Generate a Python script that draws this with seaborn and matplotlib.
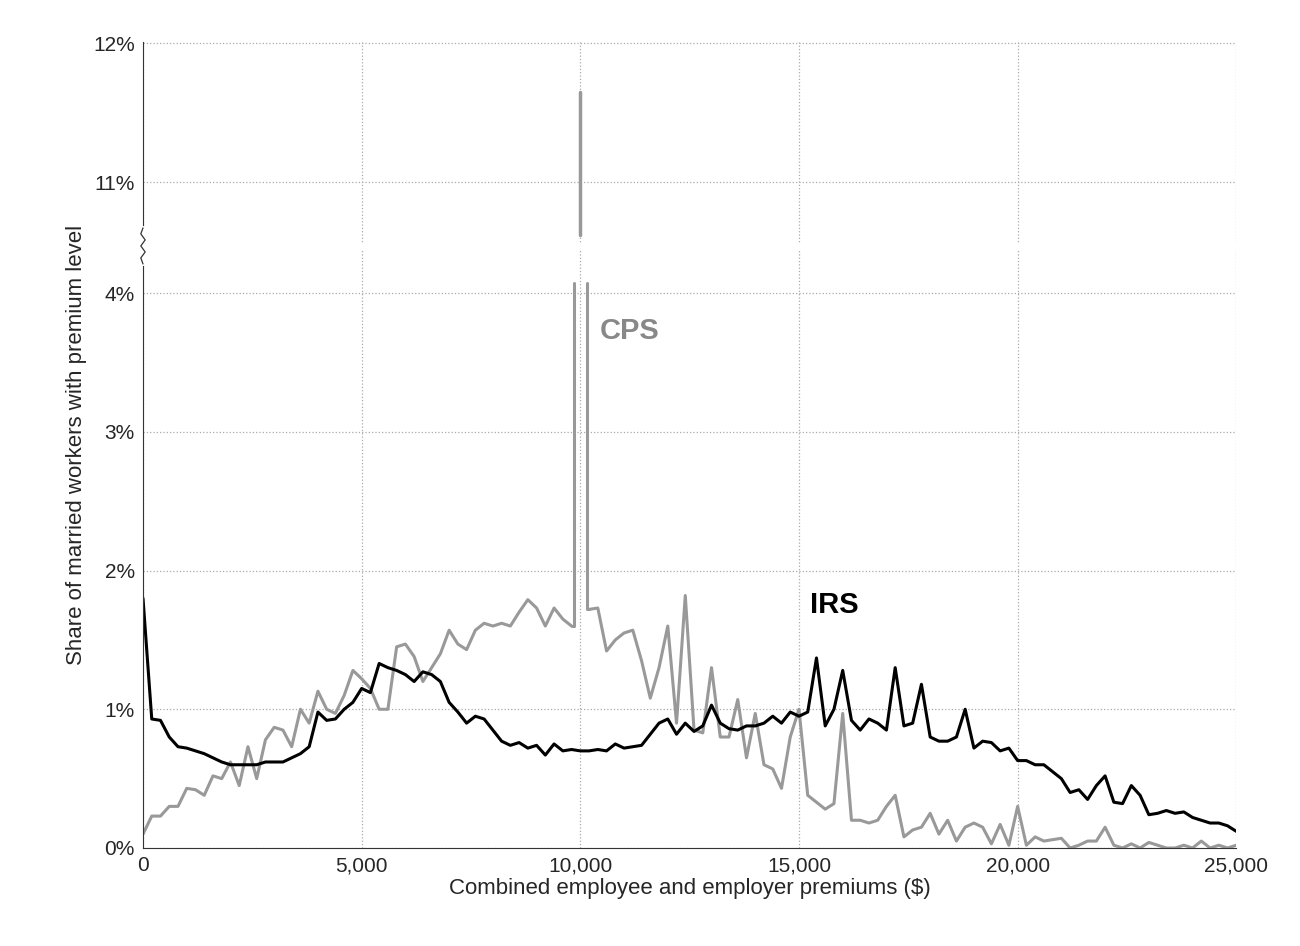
import matplotlib.pyplot as plt
import seaborn as sns
import pandas as pd
import numpy as np

# values in percent, one point every $200 from 0 to 25,000
irs_values = [
    1.8, 0.93, 0.92, 0.8, 0.73, 0.72, 0.7, 0.68, 0.65, 0.62,
    0.6, 0.6, 0.6, 0.6, 0.62, 0.62, 0.62, 0.65, 0.68, 0.73,
    0.98, 0.92, 0.93, 1.0, 1.05, 1.15, 1.12, 1.33, 1.3, 1.28,
    1.25, 1.2, 1.27, 1.25, 1.2, 1.05, 0.98, 0.9, 0.95, 0.93,
    0.85, 0.77, 0.74, 0.76, 0.72, 0.74, 0.67, 0.75, 0.7, 0.71,
    0.7, 0.7, 0.71, 0.7, 0.75, 0.72, 0.73, 0.74, 0.82, 0.9,
    0.93, 0.82, 0.9, 0.84, 0.88, 1.03, 0.9, 0.86, 0.85, 0.88,
    0.88, 0.9, 0.95, 0.9, 0.98, 0.95, 0.98, 1.37, 0.88, 1.0,
    1.28, 0.92, 0.85, 0.93, 0.9, 0.85, 1.3, 0.88, 0.9, 1.18,
    0.8, 0.77, 0.77, 0.8, 1.0, 0.72, 0.77, 0.76, 0.7, 0.72,
    0.63, 0.63, 0.6, 0.6, 0.55, 0.5, 0.4, 0.42, 0.35, 0.45,
    0.52, 0.33, 0.32, 0.45, 0.38, 0.24, 0.25, 0.27, 0.25, 0.26,
    0.22, 0.2, 0.18, 0.18, 0.16, 0.12,
]
cps_values = [
    0.1, 0.23, 0.23, 0.3, 0.3, 0.43, 0.42, 0.38, 0.52, 0.5,
    0.62, 0.45, 0.73, 0.5, 0.78, 0.87, 0.85, 0.73, 1.0, 0.9,
    1.13, 1.0, 0.97, 1.1, 1.28, 1.22, 1.15, 1.0, 1.0, 1.45,
    1.47, 1.38, 1.2, 1.3, 1.4, 1.57, 1.47, 1.43, 1.57, 1.62,
    1.6, 1.62, 1.6, 1.7, 1.79, 1.73, 1.6, 1.73, 1.65, 1.6,
    np.nan, 1.72, 1.73, 1.42, 1.5, 1.55, 1.57, 1.35, 1.08, 1.3,
    1.6, 0.9, 1.82, 0.85, 0.83, 1.3, 0.8, 0.8, 1.07, 0.65,
    0.97, 0.6, 0.57, 0.43, 0.8, 1.0, 0.38, 0.33, 0.28, 0.32,
    0.97, 0.2, 0.2, 0.18, 0.2, 0.3, 0.38, 0.08, 0.13, 0.15,
    0.25, 0.1, 0.2, 0.05, 0.15, 0.18, 0.15, 0.03, 0.17, 0.02,
    0.3, 0.02, 0.08, 0.05, 0.06, 0.07, 0.0, 0.02, 0.05, 0.05,
    0.15, 0.02, 0.0, 0.03, 0.0, 0.04, 0.02, 0.0, 0.0, 0.02,
    0.0, 0.05, 0.0, 0.02, 0.0, 0.02,
]
# CPS heaping spikes around $10,000
spike_x = [9850, 10000, 10150]
spike_values = [4.07, 11.65, 4.07]

y_ticks = [0, 1, 2, 3, 4, 11, 12]
y_tick_labels = ['0%', '1%', '2%', '3%', '4%', '11%', '12%']
x_ticks = [0, 5000, 10000, 15000, 20000, 25000]

# broken axis: values above the break are shifted down
BREAK_LO, SHIFT = 4.34, 6.2


def brk(v):
    v = np.asarray(v, dtype=float)
    return np.where(v > 10.5, v - SHIFT, v)


step = 200
irs = pd.DataFrame({'x': np.arange(len(irs_values)) * step, 'y': irs_values})
cps = pd.DataFrame({'x': np.arange(len(cps_values)) * step, 'y': cps_values})

sns.set_style('white')
plt.rcParams['font.family'] = ['Liberation Sans', 'DejaVu Sans']

fig = plt.figure(figsize=(13, 9.46), dpi=100)
ax = fig.add_axes([0.11, 0.1036, 0.841, 0.852])

gray = '#999999'
cps_a = cps[cps['x'] < 10000]
cps_b = cps[cps['x'] > 10000]
sns.lineplot(data=cps_a, x='x', y='y', color=gray, lw=2.2, ax=ax)
sns.lineplot(data=cps_b, x='x', y='y', color=gray, lw=2.2, ax=ax)
# spikes
ax.plot([cps_a['x'].iloc[-1], spike_x[0], spike_x[0]],
        [cps_a['y'].iloc[-1], cps_a['y'].iloc[-1], spike_values[0]], color=gray, lw=2.2)
ax.plot([spike_x[2], spike_x[2], cps_b['x'].iloc[0]],
        [spike_values[2], cps_b['y'].iloc[0], cps_b['y'].iloc[0]], color=gray, lw=2.2)
ax.plot([spike_x[1], spike_x[1]], [BREAK_LO + 0.08, brk(spike_values[1])], color=gray, lw=2.5)

sns.lineplot(data=irs, x='x', y='y', color='black', lw=2.2, ax=ax)

ax.set_xlim(0, 25000)
ax.set_ylim(0, 12 - SHIFT + 0.01)
ax.set_xticks(x_ticks)
ax.set_xticklabels([f'{t:,}' for t in x_ticks], fontsize=15)
ax.set_yticks(brk(y_ticks))
ax.set_yticklabels(y_tick_labels, fontsize=15)
ax.grid(True, color='#aaaaaa', linestyle=':', linewidth=0.9)
ax.tick_params(axis='both', length=0, pad=6)
for s in ['top', 'right']:
    ax.spines[s].set_visible(False)
ax.spines['left'].set_color('#333333')
ax.spines['bottom'].set_color('#333333')

# break gap and zigzag on y axis
ax.axhspan(BREAK_LO - 0.02, BREAK_LO + 0.02, color='white', zorder=1.5)
zx = np.array([0, -50, 50, -50, 50, -50, 0])
zy = np.linspace(BREAK_LO - 0.13, BREAK_LO + 0.13, len(zx))
ax.plot([0, 0], [BREAK_LO - 0.13, BREAK_LO + 0.13], color='white', lw=3, clip_on=False, zorder=4)
ax.plot(zx, zy, color='#333333', lw=0.9, clip_on=False, zorder=5)

ax.text(10450, 3.73, 'CPS', color='#888888', fontsize=21, fontweight='bold', va='center')
ax.text(15250, 1.75, 'IRS', color='black', fontsize=21, fontweight='bold', va='center')

ax.set_xlabel('Combined employee and employer premiums ($)', fontsize=16, labelpad=2)
ax.set_ylabel('Share of married workers with premium level', fontsize=16, labelpad=4)

plt.savefig('out.png', dpi=100)
